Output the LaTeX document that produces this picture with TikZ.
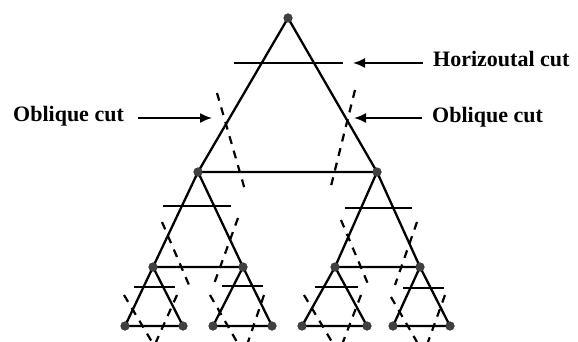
\documentclass[tikz,border=0pt]{standalone}
\usepackage{fontspec}
\setmainfont{Liberation Serif}
\usetikzlibrary{arrows.meta}
\begin{document}
\begin{tikzpicture}[x=1pt,y=-1pt,
  vtx/.style={circle,fill=black!75,inner sep=0pt,minimum size=9pt},
  edge/.style={line width=2.3pt,line cap=round},
  hcut/.style={line width=2.3pt},
  ocut/.style={line width=2.2pt,dash pattern=on 8pt off 7pt},
  lbl/.style={font=\fontsize{22}{24}\selectfont\bfseries,inner sep=0pt,anchor=base west},
  arr/.style={line width=1.8pt,-{Latex[length=12pt,width=10pt]}}]
\useasboundingbox (0,0) rectangle (578,342);
% vertices
\node[vtx] (a) at (288,18) {};
\node[vtx] (b1) at (198,172) {};
\node[vtx] (b2) at (377,172) {};
\node[vtx] (c1) at (153,267) {};
\node[vtx] (c2) at (243,267) {};
\node[vtx] (c3) at (335,267) {};
\node[vtx] (c4) at (420,267) {};
\node[vtx] (d1) at (125,326) {};
\node[vtx] (d2) at (183,326) {};
\node[vtx] (d3) at (213,326) {};
\node[vtx] (d4) at (272,326) {};
\node[vtx] (d5) at (302,326) {};
\node[vtx] (d6) at (367,326) {};
\node[vtx] (d7) at (393,326) {};
\node[vtx] (d8) at (450,326) {};
% triangles
\draw[edge] (a.center) -- (b1.center) -- (b2.center) -- cycle;
\draw[edge] (b1.center) -- (c1.center) -- (c2.center) -- cycle;
\draw[edge] (b2.center) -- (c3.center) -- (c4.center) -- cycle;
\draw[edge] (c1.center) -- (d1.center) -- (d2.center) -- cycle;
\draw[edge] (c2.center) -- (d3.center) -- (d4.center) -- cycle;
\draw[edge] (c3.center) -- (d5.center) -- (d6.center) -- cycle;
\draw[edge] (c4.center) -- (d7.center) -- (d8.center) -- cycle;
% horizontal cuts
\draw[hcut] (234,63) -- (343,63);
\draw[hcut] (163,206) -- (231,206);
\draw[hcut] (345,208) -- (412,208);
\draw[hcut] (134,287) -- (175,287);
\draw[hcut] (222,286) -- (263,286);
\draw[hcut] (315,287) -- (358,287);
\draw[hcut] (403,288) -- (444,288);
% oblique cuts
\draw[ocut] (217,93) -- (245,190);
\draw[ocut] (355,90) -- (330,190);
\draw[ocut] (162,222) -- (189,285);
\draw[ocut] (238,218) -- (214,284);
\draw[ocut] (341,220) -- (368,284);
\draw[ocut] (417,222) -- (395,285);
\draw[ocut] (124,295) -- (152,342);
\draw[ocut] (177,295) -- (156,342);
\draw[ocut] (210,295) -- (237,342);
\draw[ocut] (264,295) -- (248,342);
\draw[ocut] (304,295) -- (332,342);
\draw[ocut] (361,295) -- (343,342);
\draw[ocut] (391,297) -- (417,342);
\draw[ocut] (445,295) -- (428,342);
% vertices on top
\foreach \n in {a,b1,b2,c1,c2,c3,c4,d1,d2,d3,d4,d5,d6,d7,d8}
  \fill[black!75] (\n) circle (4.5pt);
% labels
\node[lbl] (hl) at (433,67) {Horizoutal cut};
\node[lbl] (orl) at (432,123) {Oblique cut};
\node[lbl] (oll) at (13,122) {Oblique cut};
\coordinate (hT0) at (423,63);
\coordinate (hT1) at (353,63);
\coordinate (rT0) at (422,118);
\coordinate (rT1) at (354,118);
\coordinate (lT0) at (138,118);
\coordinate (lT1) at (212,118);
\draw[arr] (hT0) -- (hT1);
\draw[arr] (rT0) -- (rT1);
\draw[arr] (lT0) -- (lT1);
\end{tikzpicture}
\end{document}
